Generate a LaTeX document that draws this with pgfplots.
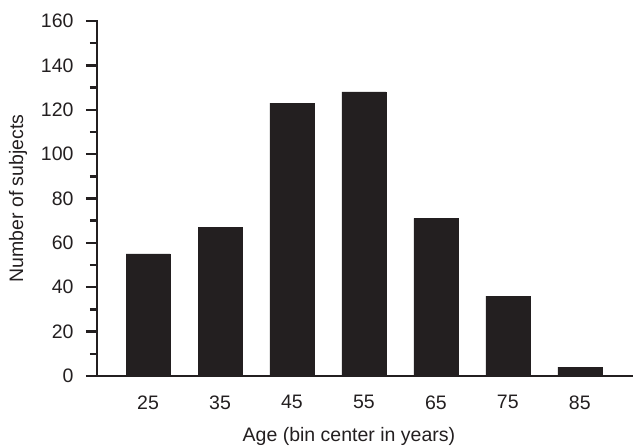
\documentclass[border=0pt]{standalone}
\usepackage{pgfplots}
\pgfplotsset{compat=1.18}
\usepackage{fontspec}
\setmainfont{Liberation Sans}
\definecolor{barc}{HTML}{231F20}
\begin{document}
\begin{tikzpicture}
\useasboundingbox (-97pt,-71pt) rectangle (536pt,376pt);
\begin{axis}[
  at={(0,0)}, anchor=south west,
  scale only axis,
  width=536pt, height=355pt,
  xmin=17.9, xmax=92.4,
  ymin=0, ymax=160,
  axis lines*=left,
  axis line style={line width=2.6pt, color=barc, line cap=rect},
  x axis line style={line width=2pt},
  xtick={25,35,45,55,65,75,85},
  x tick style={draw=none},
  ytick distance=20,
  minor y tick num=1,
  tick align=outside,
  major tick length=11pt,
  minor tick length=7pt,
  y tick style={line width=2.4pt, color=barc},
  /pgf/number format/assume math mode=true,
  ticklabel style={font=\fontsize{19.5}{22}\selectfont, color=barc},
  xticklabel style={yshift=-5pt},
  yticklabel style={xshift=-9pt},
  label style={font=\fontsize{19.5}{22}\selectfont, color=barc},
  xlabel={Age (bin center in years)},
  ylabel={Number of subjects},
  xlabel style={at={(axis description cs:0.47,0)}, anchor=center, yshift=-60pt},
  ylabel style={at={(axis description cs:0,0.5)}, anchor=center, yshift=79pt},
  ybar, bar width=44pt, bar shift=0pt,
]
\addplot[fill=barc, draw=barc] coordinates {(25,55) (35,67) (45,123) (55,128) (65,71) (75,36) (85,4)};
\end{axis}
\end{tikzpicture}
\end{document}
